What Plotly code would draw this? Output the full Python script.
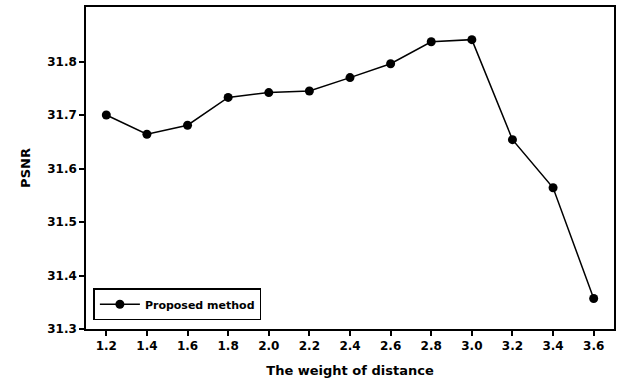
import plotly.graph_objects as go

weights = [1.2, 1.4, 1.6, 1.8, 2.0, 2.2, 2.4, 2.6, 2.8, 3.0, 3.2, 3.4, 3.6]
psnr = [31.700, 31.664, 31.681, 31.733, 31.742, 31.745, 31.770, 31.796, 31.837, 31.841, 31.654, 31.564, 31.357]
x_ticks = [1.2, 1.4, 1.6, 1.8, 2.0, 2.2, 2.4, 2.6, 2.8, 3.0, 3.2, 3.4, 3.6]
y_ticks = [31.3, 31.4, 31.5, 31.6, 31.7, 31.8]

fig = go.Figure()
fig.add_trace(go.Scatter(
    x=weights, y=psnr, mode="lines+markers", name="Proposed method",
    line=dict(color="black", width=1.5),
    marker=dict(color="black", size=9),
))

font = "DejaVu Sans, Arial, sans-serif"
fig.update_layout(
    width=621, height=385,
    margin=dict(l=86, r=5, t=5, b=56),
    paper_bgcolor="white", plot_bgcolor="white",
    font=dict(family=font, color="black"),
    showlegend=True,
    legend=dict(
        x=0.014, y=0.027, xanchor="left", yanchor="bottom",
        bordercolor="black", borderwidth=1.5, bgcolor="white",
        font=dict(family=font, size=11, color="black", weight="bold"),
        itemwidth=40,
    ),
    xaxis=dict(
        range=[1.1, 3.7], tickvals=x_ticks,
        ticktext=[f"{v:.1f}" for v in x_ticks],
        ticks="outside", ticklen=5, tickwidth=1.5, tickcolor="black",
        showline=True, linecolor="black", linewidth=1.5, mirror=True,
        showgrid=False, zeroline=False,
        tickfont=dict(size=12, weight="bold"),
        title=dict(text="The weight of distance", font=dict(size=13, weight="bold"), standoff=14),
    ),
    yaxis=dict(
        range=[31.3, 31.902], tickvals=y_ticks,
        ticktext=[f"{v:.1f}" for v in y_ticks],
        ticks="outside", ticklen=5, tickwidth=1.5, tickcolor="black",
        showline=True, linecolor="black", linewidth=1.5, mirror=True,
        showgrid=False, zeroline=False,
        tickfont=dict(size=12, weight="bold"),
        title=dict(text="PSNR", font=dict(size=13, weight="bold"), standoff=14),
    ),
)

fig.write_html("out.html")
